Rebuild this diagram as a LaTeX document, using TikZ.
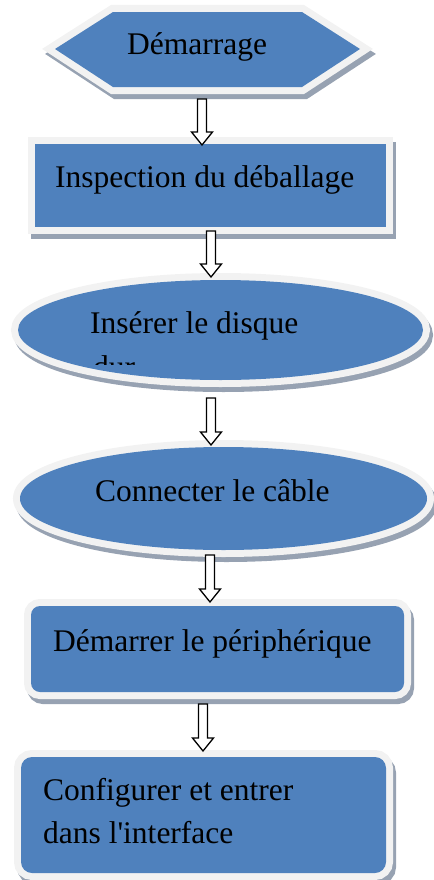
\documentclass[tikz,border=0pt]{standalone}
\usepackage{fontspec}
\newfontfamily\tnr{Liberation Serif}
\usetikzlibrary{calc}
\definecolor{boxblue}{HTML}{4F81BD}
\definecolor{rimgray}{HTML}{F2F2F2}
\definecolor{shadowgray}{HTML}{97A2B2}
\newcommand\layered[1]{%
  \path[shadowlayer, shift={(3,5)}] #1;
  \path[rimlayer] #1;
  \path[bluelayer] #1;}
\newcommand\blockarr[2]{%
  \draw[blockarrow] let \p1=(#1), \p2=(#2) in
    (\x1-4.5bp,\y1) -- (\x1+4.5bp,\y1) -- (\x1+4.5bp,\y2+13bp) -- (\x1+10.5bp,\y2+13bp)
    -- (\x1,\y2) -- (\x1-10.5bp,\y2+13bp) -- (\x1-4.5bp,\y2+13bp) -- cycle;}
\begin{document}
\begin{tikzpicture}[x=1bp,y=-1bp,line join=miter,
  txt/.style={font=\tnr\fontsize{31.5bp}{44bp}\selectfont, inner sep=0pt, anchor=base west, text=black},
  shadowlayer/.style={draw=shadowgray, fill=shadowgray, line width=14bp},
  rimlayer/.style={draw=rimgray, fill=rimgray, line width=14bp},
  bluelayer/.style={fill=boxblue},
  blockarrow/.style={draw=black, fill=white, line width=1.3bp}]
\useasboundingbox (0,0) rectangle (434,880);
\clip (0,0) rectangle (434,880);
% shapes
\layered{(55,49) -- (113,12) -- (302,12) -- (360,49) -- (302,87) -- (113,87) -- cycle}
\layered{(35,144) rectangle (386,227)}
\layered{(220.5,330) ellipse [x radius=202.5, y radius=50]}
\layered{(223.5,498.5) ellipse [x radius=203.5, y radius=51.5]}
\layered{[rounded corners=9bp] (31,606) rectangle (404,692)}
\layered{[rounded corners=11bp] (21,757) rectangle (386,873)}
% texts
\node[txt] (n1) at (127,54.5) {Démarrage};
\node[txt] (n2) at (55,187) {Inspection du déballage};
\node[txt] (n3) at (90,333) {Insérer le disque};
\begin{scope}
  \clip (0,300) rectangle (434,364);
  \node[txt] (n3b) at (93,377) {dur};
\end{scope}
\node[txt] (n4) at (95,501) {Connecter le câble};
\node[txt] (n5) at (53,651) {Démarrer le périphérique};
\node[txt] (n6) at (43,800) {Configurer et entrer};
\node[txt] (n6b) at (43,843) {dans l'interface};
% arrows
\coordinate (a1s) at (202,99);  \coordinate (a1e) at (202,145);
\coordinate (a2s) at (211,231); \coordinate (a2e) at (211,277);
\coordinate (a3s) at (211,398); \coordinate (a3e) at (211,445);
\coordinate (a4s) at (210,555); \coordinate (a4e) at (210,602);
\coordinate (a5s) at (203,704); \coordinate (a5e) at (203,751);
\blockarr{a1s}{a1e}
\blockarr{a2s}{a2e}
\blockarr{a3s}{a3e}
\blockarr{a4s}{a4e}
\blockarr{a5s}{a5e}
\end{tikzpicture}
\end{document}
